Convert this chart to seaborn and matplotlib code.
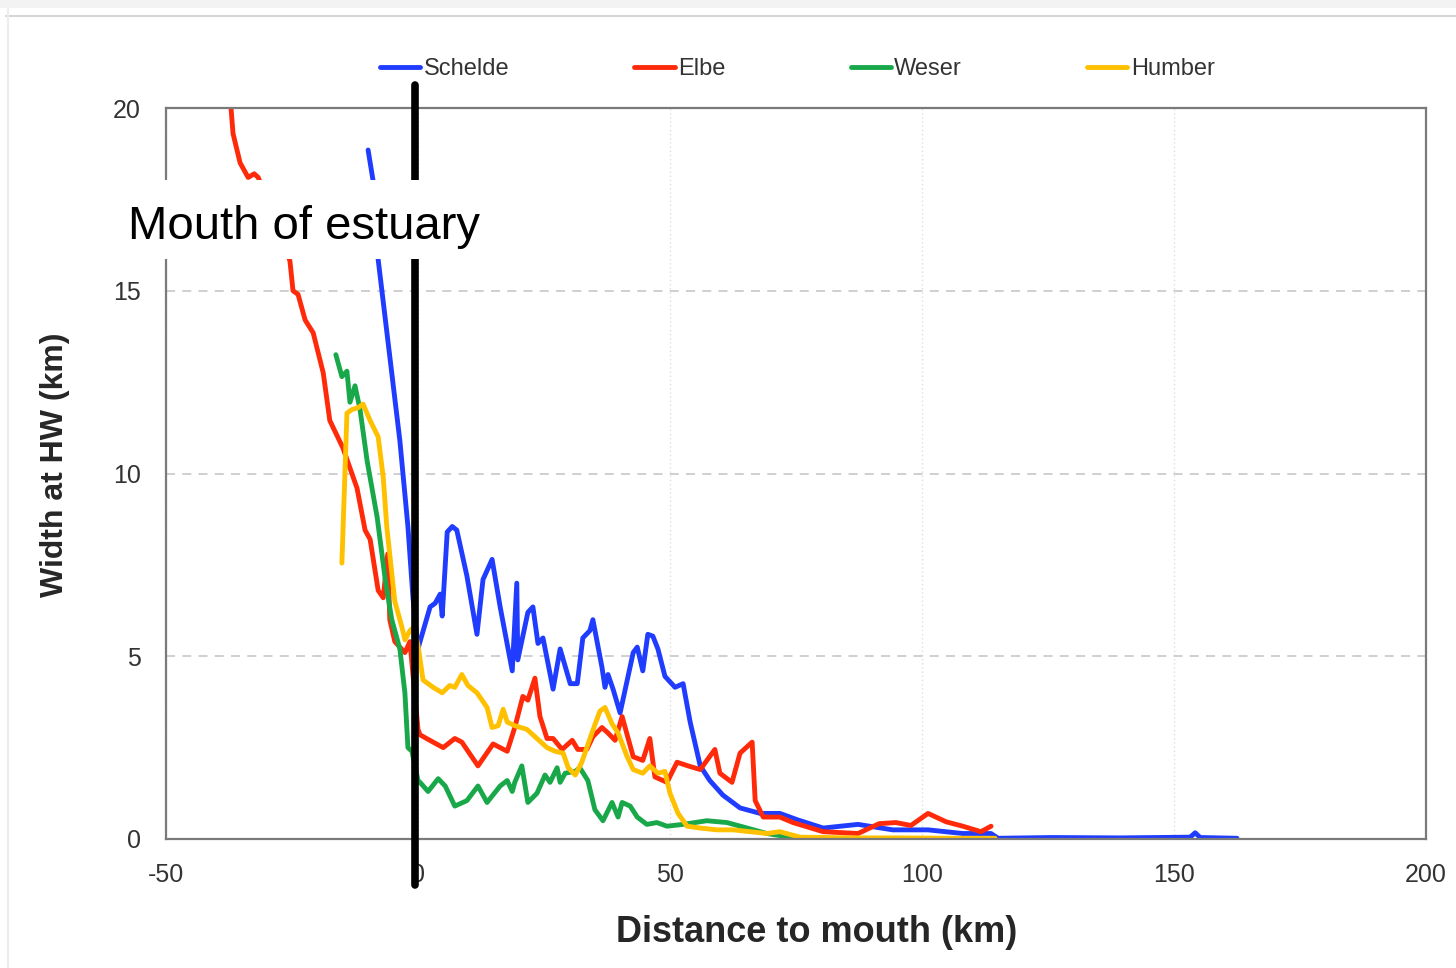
import numpy as np
import pandas as pd
import matplotlib
matplotlib.use("Agg")
import matplotlib.pyplot as plt
from matplotlib.patches import Rectangle
from matplotlib.lines import Line2D
import seaborn as sns

# estuary width at high water (km) vs distance to mouth (km)
schelde_km = [-9.9, -8.9, -7.9, -3.6, -2.0, -1.0, 0.0, 0.4, 2.4, 3.4, 4.4, 4.8, 5.8, 6.8, 7.7,
              9.7, 11.7, 12.9, 14.7, 16.3, 18.7, 19.6, 19.8, 21.8, 22.8, 23.8, 24.8, 26.8,
              28.2, 30.2, 31.6, 32.7, 34.1, 34.7, 36.5, 37.1, 37.7, 38.7, 40.1, 42.7, 43.5,
              44.6, 45.6, 46.6, 47.6, 49.0, 51.0, 52.6, 54.0, 56.0, 57.9, 60.5, 63.9, 67.9,
              71.8, 75.4, 80.4, 87.3, 94.2, 101.2, 108.1, 113.7, 115.1, 125.6, 139.3, 153.2,
              154.2, 155.2, 162.5]
schelde_w = [18.85, 18.0, 15.85, 10.9, 8.55, 6.6, 5.2, 5.4, 6.35, 6.45, 6.7, 6.1, 8.4, 8.55, 8.45,
             7.2, 5.6, 7.1, 7.65, 6.35, 4.6, 7.0, 4.9, 6.2, 6.35, 5.35, 5.5, 4.1,
             5.2, 4.25, 4.25, 5.5, 5.7, 6.0, 4.7, 4.15, 4.5, 4.1, 3.45, 5.1, 5.25,
             4.6, 5.6, 5.55, 5.2, 4.45, 4.15, 4.25, 3.2, 2.0, 1.6, 1.2, 0.85, 0.7,
             0.7, 0.52, 0.3, 0.4, 0.25, 0.25, 0.15, 0.15, 0.02, 0.04, 0.03, 0.05,
             0.17, 0.04, 0.02]

elbe_km = [-37.1, -36.7, -35.3, -33.7, -32.5, -31.7, -29.4, -26.4, -25.4, -24.8, -23.8, -22.4,
           -20.8, -18.8, -17.5, -14.9, -12.1, -10.5, -9.5, -7.9, -6.9, -6.0, -5.6, -4.6, -2.6,
           -1.6, 0.0, 0.4, 3.0, 5.0, 7.3, 8.7, 11.9, 14.9, 17.7, 19.2, 20.8, 21.8, 23.2, 24.2,
           25.6, 26.8, 28.6, 30.6, 31.7, 33.5, 34.7, 36.5, 37.7, 39.1, 40.5, 42.7, 44.6, 46.0,
           47.0, 49.4, 51.4, 53.6, 56.0, 58.9, 59.9, 62.3, 63.9, 66.3, 66.9, 68.5, 71.8, 74.4,
           80.4, 87.3, 91.5, 94.8, 97.8, 101.2, 104.8, 108.1, 111.7, 113.7]
elbe_w = [20.0, 19.3, 18.5, 18.1, 18.2, 18.1, 17.3, 16.3, 15.8, 15.0, 14.9, 14.2,
          13.85, 12.75, 11.45, 10.7, 9.6, 8.45, 8.2, 6.8, 6.6, 7.8, 6.0, 5.4, 5.1,
          5.4, 3.0, 2.85, 2.65, 2.5, 2.75, 2.65, 2.0, 2.6, 2.4, 3.05, 3.9, 3.8, 4.4, 3.35,
          2.75, 2.75, 2.45, 2.7, 2.45, 2.45, 2.8, 3.05, 2.9, 2.7, 3.35, 2.25, 2.15, 2.75,
          1.7, 1.55, 2.1, 2.0, 1.9, 2.45, 1.8, 1.55, 2.35, 2.65, 1.05, 0.6, 0.6, 0.45,
          0.2, 0.15, 0.42, 0.45, 0.37, 0.7, 0.47, 0.35, 0.2, 0.35]

weser_km = [-16.3, -15.1, -14.1, -13.5, -12.5, -11.5, -10.1, -8.1, -6.5, -5.2, -3.6, -2.6, -2.0,
            -1.2, 0.0, 0.4, 2.0, 4.0, 5.4, 7.3, 9.7, 11.9, 13.7, 16.3, 17.7, 18.7, 19.2, 20.6,
            21.8, 23.6, 25.2, 26.2, 27.6, 28.2, 29.2, 31.2, 32.1, 33.7, 35.1, 36.7, 38.5, 39.7,
            40.5, 42.1, 43.5, 45.4, 47.4, 49.4, 52.6, 57.3, 61.3, 65.3, 69.2, 73.8, 81.7]
weser_w = [13.25, 12.65, 12.8, 11.95, 12.4, 11.75, 10.35, 8.8, 7.1, 6.0, 5.2, 4.0, 2.5,
           2.4, 1.6, 1.55, 1.3, 1.65, 1.45, 0.9, 1.05, 1.45, 1.0, 1.45, 1.6, 1.3, 1.55, 2.0,
           1.0, 1.25, 1.75, 1.55, 1.95, 1.55, 1.8, 1.85, 1.95, 1.6, 0.8, 0.5, 1.0, 0.6,
           1.0, 0.9, 0.6, 0.4, 0.45, 0.35, 0.4, 0.5, 0.45, 0.3, 0.15, 0.05, 0.02]

humber_km = [-15.1, -14.5, -14.1, -13.1, -11.9, -10.9, -9.5, -7.9, -6.9, -6.2, -4.6, -3.2, -2.6,
             -1.6, -0.8, 0.0, 1.0, 3.0, 4.8, 6.3, 7.3, 8.7, 9.9, 11.7, 13.7, 14.7, 15.9, 16.9,
             17.7, 19.2, 21.6, 23.6, 25.6, 27.2, 28.8, 29.8, 31.2, 32.5, 34.5, 36.1, 37.1, 38.5,
             39.7, 41.5, 42.7, 44.6, 46.0, 47.6, 49.0, 50.0, 51.6, 53.4, 56.0, 59.3, 62.5, 65.9,
             69.2, 71.8, 75.8, 85.7, 95.6, 105.6, 114.5]
humber_w = [7.55, 10.0, 11.65, 11.75, 11.8, 11.9, 11.45, 11.0, 9.9, 8.55, 6.5, 5.8, 5.45,
            5.7, 5.8, 5.3, 4.35, 4.15, 4.0, 4.2, 4.15, 4.5, 4.2, 4.0, 3.6, 3.05, 3.1, 3.55,
            3.2, 3.1, 3.0, 2.75, 2.5, 2.4, 2.35, 1.95, 1.75, 2.1, 2.9, 3.5, 3.6, 3.15,
            2.9, 2.25, 1.9, 1.8, 2.0, 1.8, 1.85, 1.25, 0.7, 0.35, 0.3, 0.25, 0.25, 0.2,
            0.15, 0.2, 0.05, 0.03, 0.03, 0.02, 0.02]

estuaries = ["Schelde", "Elbe", "Weser", "Humber"]
colors = ["#1f3cff", "#ff2a0a", "#18a84a", "#ffc000"]
x_ticks = [-50, 0, 50, 100, 150, 200]
y_ticks = [0, 5, 10, 15, 20]
mouth_x = -0.6

frames = []
for name, xs, ws in zip(estuaries,
                        [schelde_km, elbe_km, weser_km, humber_km],
                        [schelde_w, elbe_w, weser_w, humber_w]):
    frames.append(pd.DataFrame({"km": xs, "width": ws, "estuary": name}))
df = pd.concat(frames, ignore_index=True)

sns.set_style("white")
plt.rcParams['font.family'] = ['Liberation Sans', 'DejaVu Sans']
plt.rcParams['axes.unicode_minus'] = False

fig = plt.figure(figsize=(14.56, 9.68), dpi=100)
ax = fig.add_axes([166 / 1456, 1 - 839 / 968, 1260 / 1456, 731 / 968])

sns.lineplot(data=df, x="km", y="width", hue="estuary", hue_order=estuaries,
             palette=colors, estimator=None, sort=False, lw=3.5, ax=ax)

ax.set_xlim(-50, 200)
ax.set_ylim(0, 20)
ax.set_xticks(x_ticks)
ax.set_yticks(y_ticks)
ax.grid(axis="y", color="#cccccc", linestyle=(0, (5, 4)), lw=1.3)
ax.grid(axis="x", color="#dddddd", linestyle=(0, (1, 2)), lw=1.0)
ax.set_axisbelow(True)
for s in ax.spines.values():
    s.set_color("#7a7a7a")
    s.set_linewidth(1.6)
ax.tick_params(axis="x", length=5, width=1.2, color="#7a7a7a", pad=12,
               labelsize=18, labelcolor="#333333")
ax.tick_params(axis="y", length=0, pad=18, labelsize=18, labelcolor="#333333")

ax.set_xlabel("Distance to mouth (km)", fontsize=26, fontweight="bold")
ax.set_ylabel("Width at HW (km)", fontsize=23, fontweight="bold")
ax.xaxis.set_label_coords((817 - 166) / 1260, -(933 - 839) / 731)
ax.yaxis.set_label_coords((55 - 166) / 1260, (839 - 465) / 731)
ax.xaxis.label.set_va("center")
ax.yaxis.label.set_va("center")

leg = ax.legend(ncol=4, loc="center left", bbox_to_anchor=(380 / 1456, 1 - 69 / 968),
                bbox_transform=fig.transFigure, frameon=False, fontsize=17,
                handlelength=1.7, handletextpad=0.15, columnspacing=5.3,
                borderpad=0, borderaxespad=0)
for t in leg.get_texts():
    t.set_color("#333333")
for h in leg.get_lines():
    h.set_linewidth(3.5)

# mouth marker and label
ax.axvline(mouth_x, ymin=-0.063, ymax=1.031, color="black", lw=5.5, clip_on=False, zorder=6)
ax.add_patch(Rectangle(((118 - 166) / 1260, (839 - 259) / 731), 372 / 1260, 79 / 731,
                       transform=ax.transAxes, facecolor="white", edgecolor="none",
                       clip_on=False, zorder=7))
ax.text((304 - 166) / 1260, (839 - 239) / 731, "Mouth of estuary", transform=ax.transAxes,
        ha="center", va="baseline", fontsize=34, color="black", zorder=8)

# card frame of the screenshot
fig.add_artist(Rectangle((0, 1 - 8 / 968), 1, 8 / 968, transform=fig.transFigure,
                         facecolor="#f3f3f3", edgecolor="none"))
fig.add_artist(Line2D([6 / 1456, 1], [1 - 16 / 968, 1 - 16 / 968], transform=fig.transFigure,
                      color="#d6d6d6", lw=1.5))
fig.add_artist(Line2D([8 / 1456, 8 / 1456], [0, 1 - 8 / 968], transform=fig.transFigure,
                      color="#ededed", lw=1.5))

fig.savefig("out.png", dpi=100)
